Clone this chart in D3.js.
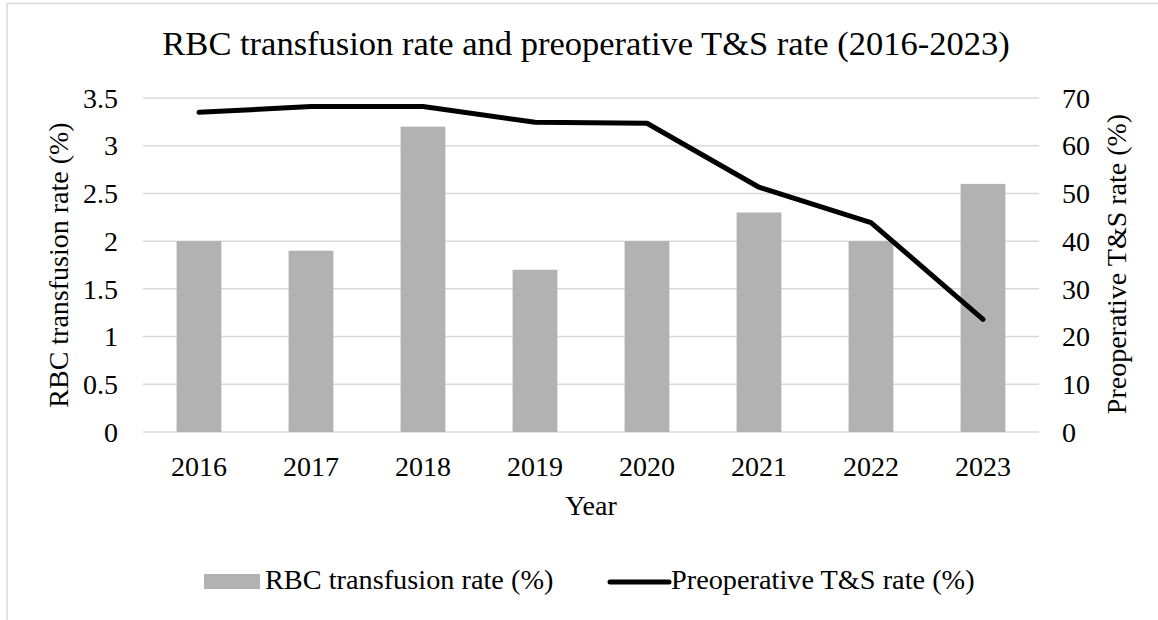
<!DOCTYPE html>
<html>
<head>
<meta charset="utf-8">
<script src="https://cdn.jsdelivr.net/npm/d3@7/dist/d3.min.js"></script>
<style>
  html, body { margin: 0; padding: 0; background: #fff; }
  svg text { font-family: "Liberation Serif", "Times New Roman", serif; fill: #000; }
</style>
</head>
<body>
<svg id="chart" width="1158" height="620"></svg>
<script>
const years = ["2016", "2017", "2018", "2019", "2020", "2021", "2022", "2023"];
const rbcRate = [2.0, 1.9, 3.2, 1.7, 2.0, 2.3, 2.0, 2.6];
const tsRate = [67.0, 68.2, 68.2, 64.9, 64.7, 51.3, 43.9, 23.6];
const leftTicks = [0, 0.5, 1, 1.5, 2, 2.5, 3, 3.5];
const rightTicks = [0, 10, 20, 30, 40, 50, 60, 70];
const chartTitle = "RBC transfusion rate and preoperative T&S rate (2016-2023)";
const xTitle = "Year";
const yLeftTitle = "RBC transfusion rate (%)";
const yRightTitle = "Preoperative T&S rate (%)";

const svg = d3.select("#chart");
const plot = { left: 143, right: 1039, top: 98, bottom: 432 };

const x = d3.scaleBand().domain(years).range([plot.left, plot.right]).paddingInner(0.6).paddingOuter(0.3);
const yL = d3.scaleLinear().domain([0, 3.5]).range([plot.bottom, plot.top]);
const yR = d3.scaleLinear().domain([0, 70]).range([plot.bottom, plot.top]);

// outer frame (top & left)
svg.append("line").attr("x1", 7).attr("x2", 1158).attr("y1", 3.5).attr("y2", 3.5)
  .attr("stroke", "#d9d9d9").attr("stroke-width", 1.5);
svg.append("line").attr("x1", 7).attr("x2", 7).attr("y1", 3.5).attr("y2", 620)
  .attr("stroke", "#d9d9d9").attr("stroke-width", 1.5);

// gridlines
svg.append("g").selectAll("line").data(leftTicks).join("line")
  .attr("x1", plot.left).attr("x2", plot.right)
  .attr("y1", d => yL(d)).attr("y2", d => yL(d))
  .attr("stroke", "#d9d9d9").attr("stroke-width", 1.5);

// bars
svg.append("g").selectAll("rect").data(years).join("rect")
  .attr("x", d => x(d)).attr("width", x.bandwidth())
  .attr("y", (d, i) => yL(rbcRate[i]))
  .attr("height", (d, i) => yL(0) - yL(rbcRate[i]))
  .attr("fill", "#b2b2b2");

// line
const line = d3.line().x((d, i) => x(years[i]) + x.bandwidth() / 2).y(d => yR(d));
svg.append("path").datum(tsRate).attr("d", line)
  .attr("fill", "none").attr("stroke", "#000").attr("stroke-width", 5)
  .attr("stroke-linecap", "round").attr("stroke-linejoin", "round");

// axes
const fmt = d => String(d);
const gL = svg.append("g").attr("transform", `translate(${plot.left},0)`)
  .call(d3.axisLeft(yL).tickValues(leftTicks).tickFormat(fmt).tickSize(0).tickPadding(25));
const gR = svg.append("g").attr("transform", `translate(${plot.right},0)`)
  .call(d3.axisRight(yR).tickValues(rightTicks).tickFormat(fmt).tickSize(0).tickPadding(23));
const gB = svg.append("g").attr("transform", `translate(0,${plot.bottom})`)
  .call(d3.axisBottom(x).tickSize(0).tickPadding(0));
[gL, gR, gB].forEach(g => {
  g.select(".domain").remove();
  g.selectAll("text").attr("font-size", 28).attr("font-family", "Liberation Serif, Times New Roman, serif").attr("fill", "#000");
});
gL.selectAll("text").attr("dy", "0.33em");
gR.selectAll("text").attr("dy", "0.33em");
gB.selectAll("text").attr("y", 44).attr("dy", 0);

// title
svg.append("text").attr("x", 586).attr("y", 55).attr("text-anchor", "middle")
  .attr("font-size", 34.5).text(chartTitle);

// axis titles
svg.append("text").attr("x", 591).attr("y", 515).attr("text-anchor", "middle")
  .attr("font-size", 28).text(xTitle);
svg.append("text").attr("transform", `translate(68,265) rotate(-90)`).attr("text-anchor", "middle")
  .attr("font-size", 28).text(yLeftTitle);
svg.append("text").attr("transform", `translate(1126,264) rotate(-90)`).attr("text-anchor", "middle")
  .attr("font-size", 28).text(yRightTitle);

// legend
const leg = svg.append("g");
leg.append("rect").attr("x", 204).attr("y", 574).attr("width", 56).attr("height", 15).attr("fill", "#b2b2b2");
leg.append("text").attr("x", 265).attr("y", 589).attr("font-size", 28.3).text(yLeftTitle);
leg.append("line").attr("x1", 610).attr("x2", 669).attr("y1", 582).attr("y2", 582)
  .attr("stroke", "#000").attr("stroke-width", 5).attr("stroke-linecap", "round");
leg.append("text").attr("x", 671).attr("y", 589).attr("font-size", 28.3).text(yRightTitle);
</script>
</body>
</html>
